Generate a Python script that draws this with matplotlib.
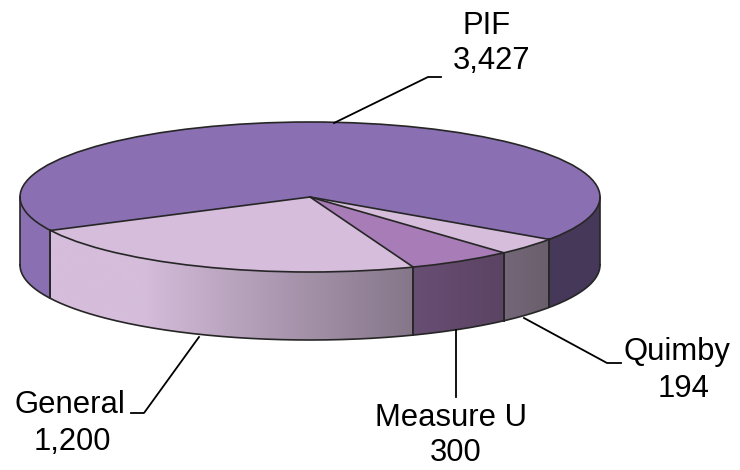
import numpy as np
import matplotlib.pyplot as plt
from matplotlib.patches import Polygon, Ellipse
from matplotlib.colors import to_rgb

# Fund sources and amounts
labels = ["General", "Measure U", "Quimby", "PIF"]
values = [1200, 300, 194, 3427]
value_text = ["1,200", "300", "194", "3,427"]

top_colors = ["#D5BDDB", "#A77CB7", "#D5BDDB", "#8A70B2"]

plt.rcParams['font.family'] = ['Liberation Sans', 'DejaVu Sans']

W, H = 740, 470
fig = plt.figure(figsize=(W / 100, H / 100), dpi=100)
ax = fig.add_axes([0, 0, 1, 1])
ax.set_xlim(0, W)
ax.set_ylim(H, 0)
ax.axis('off')

# pie geometry in pixel space (y grows downward)
cx, cy, a, b, depth = 310, 197, 290, 75, 68
start = 153.5  # degrees, first slice edge
EDGE = "#262626"
LW = 1.2


def pt(t, dy=0.0):
    r = np.radians(t)
    return cx + a * np.cos(r), cy + b * np.sin(r) + dy


def shade(t):
    # side lighting: bright on the left, darker towards the right
    return np.interp(t, [0, 35, 50, 70, 125, 180], [0.5, 0.5, 0.55, 0.63, 1.0, 1.0])


frac = np.array(values) / np.sum(values)
spans = frac * 360.0
edges = start - np.concatenate([[0], np.cumsum(spans)])

# ---- sides (visible front half, angles in [0,180])
grad_x = np.arange(cx - a, cx + a + 1)
for i in range(len(values)):
    t0, t1 = edges[i], edges[i + 1]  # t0 > t1
    base = np.array(to_rgb(top_colors[i]))
    pieces = []
    for k in (0, -360):
        lo, hi = max(t1 - k, 0), min(t0 - k, 180)
        if hi > lo:
            pieces.append((lo, hi))
    for lo, hi in pieces:
        ts = np.linspace(lo, hi, 120)
        top = [pt(t) for t in ts]
        bot = [pt(t, depth) for t in ts[::-1]]
        poly = Polygon(top + bot, closed=True, facecolor='none', edgecolor='none')
        ax.add_patch(poly)
        cosv = np.clip((grad_x - cx) / a, -1, 1)
        th = np.degrees(np.arccos(cosv))
        img = (base[None, :] * shade(th)[:, None])[None, :, :]
        im = ax.imshow(img, extent=(grad_x[0], grad_x[-1], cy + b + depth + 2, cy - 2),
                       aspect='auto', interpolation='bilinear', zorder=1)
        im.set_clip_path(poly)
        for t in (lo, hi):
            x0, y0 = pt(t)
            ax.plot([x0, x0], [y0, y0 + depth], color=EDGE, lw=LW, zorder=3)

# bottom rim outline
ts = np.linspace(0, 180, 300)
bx, by = zip(*[pt(t, depth) for t in ts])
ax.plot(bx, by, color=EDGE, lw=LW, zorder=3)

# ---- top face wedges
for i in range(len(values)):
    t0, t1 = edges[i], edges[i + 1]
    ts = np.linspace(t1, t0, 200)
    verts = [(cx, cy)] + [pt(t) for t in ts]
    ax.add_patch(Polygon(verts, closed=True, facecolor=top_colors[i],
                         edgecolor='none', zorder=2))
for t in edges[:-1]:
    x0, y0 = pt(t)
    ax.plot([cx, x0], [cy, y0], color=EDGE, lw=LW, zorder=3)
ax.add_patch(Ellipse((cx, cy), 2 * a, 2 * b, facecolor='none', edgecolor=EDGE,
                     lw=LW, zorder=3))

# ---- leader lines and labels
FS = 22.3
leaders = {
    "General": [(199, 337), (144, 413), (131, 413)],
    "Measure U": [(456, 330), (456, 397)],
    "Quimby": [(524, 318), (607, 363), (621, 363)],
    "PIF": [(334, 123), (428, 77), (441, 77)],
}
for name, pts in leaders.items():
    xs, ys = zip(*pts)
    ax.plot(xs, ys, color='black', lw=1.3, zorder=4)

text_pos = {
    "General": ((70, 405), (72, 442)),
    "Measure U": ((451, 418), (456, 453)),
    "Quimby": ((677, 352), (684, 389)),
    "PIF": ((487, 26), (492, 61)),
}
for i, name in enumerate(labels):
    (x1, y1), (x2, y2) = text_pos[name]
    ax.text(x1, y1, name, fontsize=FS, ha='center', va='center', color='black')
    ax.text(x2, y2, value_text[i], fontsize=FS, ha='center', va='center', color='black')

fig.savefig("out.png", dpi=100)
